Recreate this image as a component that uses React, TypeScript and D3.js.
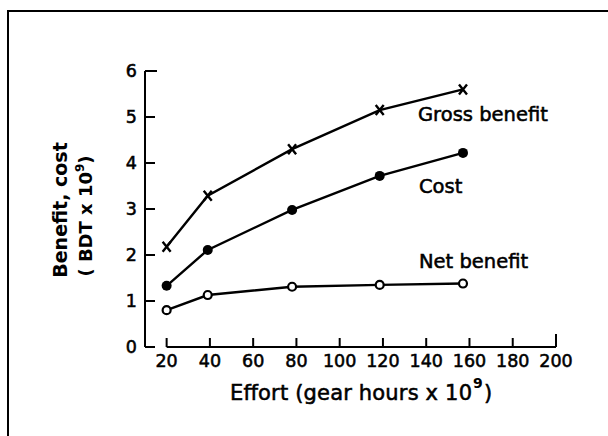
import React from "react";
import * as d3 from "d3";

const effort = [20, 39, 78, 118.5, 157];
const grossBenefit = [2.18, 3.29, 4.3, 5.15, 5.6];
const cost = [1.33, 2.11, 2.98, 3.72, 4.22];
const netBenefit = [0.8, 1.13, 1.31, 1.35, 1.38];
const xTicks = [20, 40, 60, 80, 100, 120, 140, 160, 180, 200];
const yTicks = [0, 1, 2, 3, 4, 5, 6];
const seriesLabels = ["Gross benefit", "Cost", "Net benefit"];

const W = 608;
const H = 436;
const FONT = "'DejaVu Sans', sans-serif";
const heavy = { stroke: "#000", strokeWidth: 0.55 };

export default function App() {
  const x = d3.scaleLinear().domain([10, 200]).range([145, 556]);
  const y = d3.scaleLinear().domain([0, 6]).range([347, 71]);
  const line = d3
    .line<[number, number]>()
    .x((d) => x(d[0]))
    .y((d) => y(d[1]));
  const pts = (vals: number[]) => effort.map((e, i) => [e, vals[i]] as [number, number]);
  const g = pts(grossBenefit);
  const c = pts(cost);
  const n = pts(netBenefit);

  return (
    <svg
      width={W}
      height={H}
      style={{ position: "absolute", left: 0, top: 0, background: "#fff" }}
      fontFamily={FONT}
    >
      <rect x={0} y={0} width={W} height={H} fill="#fff" />
      {/* frame */}
      <path d={`M8,${H} L8,11 L${W},11`} fill="none" stroke="#000" strokeWidth={2} />

      {/* y axis */}
      <line x1={x(10)} x2={x(10)} y1={y(0)} y2={y(6)} stroke="#000" strokeWidth={2} />
      {yTicks.map((t) => (
        <g key={"yt" + t}>
          <line x1={x(10)} x2={x(10) + (t === 6 ? 12 : 10)} y1={y(t)} y2={y(t)} stroke="#000" strokeWidth={2} />
          <text x={137} y={y(t)} dy="0.36em" textAnchor="end" fontSize={17.5} {...heavy}>
            {t}
          </text>
        </g>
      ))}

      {/* x axis */}
      <line x1={x(20)} x2={x(200)} y1={y(0)} y2={y(0)} stroke="#000" strokeWidth={2} />
      {xTicks.map((t) => (
        <g key={"xt" + t}>
          <line x1={x(t)} x2={x(t)} y1={y(0)} y2={y(0) - (t === 200 ? 13 : 9)} stroke="#000" strokeWidth={2} />
          <text x={x(t)} y={367} textAnchor="middle" fontSize={17.5} {...heavy}>
            {t}
          </text>
        </g>
      ))}

      {/* axis titles */}
      <text x={230} y={400} fontSize={21} textLength={242} lengthAdjust="spacing" {...heavy}>
        Effort (gear hours x 10
      </text>
      <text x={473} y={388} fontSize={14} fontWeight={700}>9</text>
      <text x={484} y={400} fontSize={21} {...heavy}>)</text>

      <g transform="translate(67,210) rotate(-90)">
        <text x={0} y={0} textAnchor="middle" fontSize={19} fontWeight={700}>
          Benefit, cost
        </text>
      </g>
      <g transform="translate(92,216) rotate(-90)">
        <text x={0} y={0} textAnchor="middle" fontSize={18} fontWeight={700}>
          ( BDT x 10<tspan dy={-8} fontSize={12}>9</tspan>
          <tspan dy={8}>)</tspan>
        </text>
      </g>

      {/* lines */}
      <path d={line(g) || ""} fill="none" stroke="#000" strokeWidth={2.4} />
      <path d={line(c) || ""} fill="none" stroke="#000" strokeWidth={2.4} />
      <path d={line(n) || ""} fill="none" stroke="#000" strokeWidth={2.4} />

      {/* markers */}
      {g.map((d, i) => (
        <path
          key={"gm" + i}
          d={`M${x(d[0]) - 4},${y(d[1]) - 5} L${x(d[0]) + 4},${y(d[1]) + 5} M${x(d[0]) + 4},${y(d[1]) - 5} L${x(d[0]) - 4},${y(d[1]) + 5}`}
          stroke="#000"
          strokeWidth={2.4}
          fill="none"
        />
      ))}
      {c.map((d, i) => (
        <circle key={"cm" + i} cx={x(d[0])} cy={y(d[1])} r={5} fill="#000" />
      ))}
      {n.map((d, i) => (
        <circle key={"nm" + i} cx={x(d[0])} cy={y(d[1])} r={4} fill="#fff" stroke="#000" strokeWidth={2.2} />
      ))}

      {/* series labels */}
      <text x={418} y={121} fontSize={19.5} {...heavy}>{seriesLabels[0]}</text>
      <text x={419} y={193} fontSize={19.5} {...heavy}>{seriesLabels[1]}</text>
      <text x={419} y={268} fontSize={19.5} {...heavy}>{seriesLabels[2]}</text>
    </svg>
  );
}
